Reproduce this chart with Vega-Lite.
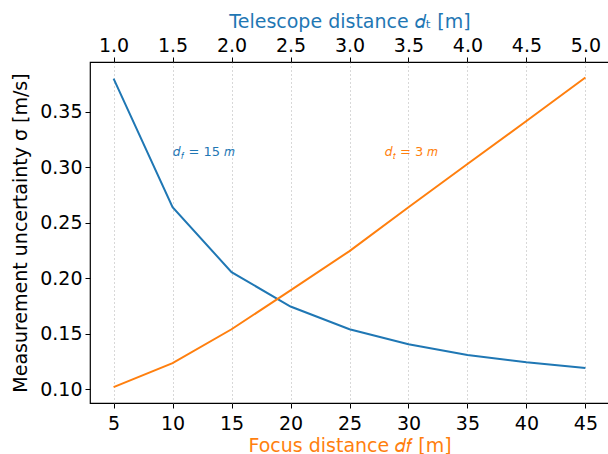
{
  "$schema": "https://vega.github.io/schema/vega-lite/v6.json",
  "autosize": {"type": "none"},
  "padding": {"left": 90, "top": 62, "right": 0, "bottom": 51},
  "width": 519,
  "height": 341,
  "config": {
    "font": "DejaVu Sans",
    "view": {"stroke": "black", "strokeWidth": 1.2},
    "axis": {
      "labelFont": "DejaVu Sans",
      "titleFont": "DejaVu Sans",
      "labelFontSize": 19,
      "titleFontSize": 19,
      "titleFontWeight": "normal",
      "labelColor": "black",
      "tickColor": "black",
      "tickSize": 5,
      "tickWidth": 1,
      "domain": false,
      "labelPadding": 3
    }
  },
  "datasets": {
    "telescope": [
      {"dt": 1.0, "sigma": 0.380},
      {"dt": 1.5, "sigma": 0.264},
      {"dt": 2.0, "sigma": 0.2055},
      {"dt": 2.5, "sigma": 0.1745},
      {"dt": 3.0, "sigma": 0.154},
      {"dt": 3.5, "sigma": 0.1405},
      {"dt": 4.0, "sigma": 0.1308},
      {"dt": 4.5, "sigma": 0.1243},
      {"dt": 5.0, "sigma": 0.119}
    ],
    "focus": [
      {"df": 5, "sigma": 0.1018},
      {"df": 10, "sigma": 0.1235},
      {"df": 15, "sigma": 0.154},
      {"df": 20, "sigma": 0.189},
      {"df": 25, "sigma": 0.2245},
      {"df": 30, "sigma": 0.264},
      {"df": 35, "sigma": 0.303},
      {"df": 40, "sigma": 0.3418},
      {"df": 45, "sigma": 0.381}
    ],
    "labelT": [{"dt": 1.5, "sigma": 0.31}],
    "labelF": [{"df": 28, "sigma": 0.31}]
  },
  "layer": [
    {
      "data": {"name": "telescope"},
      "mark": {"type": "line", "color": "#1f77b4", "strokeWidth": 2},
      "encoding": {
        "x": {
          "field": "dt", "type": "quantitative",
          "scale": {"domain": [0.8, 5.2], "nice": false, "zero": false},
          "axis": {
            "orient": "top",
            "title": "Telescope distance 𝑑ₜ [m]",
            "titleColor": "#1f77b4",
            "values": [1.0, 1.5, 2.0, 2.5, 3.0, 3.5, 4.0, 4.5, 5.0],
            "format": ".1f",
            "grid": true,
            "gridColor": "#b0b0b0",
            "gridDash": [1, 3],
            "gridWidth": 1,
            "labelPadding": 2,
            "titlePadding": 5
          }
        },
        "y": {
          "field": "sigma", "type": "quantitative",
          "scale": {"domain": [0.0875, 0.395], "nice": false, "zero": false},
          "axis": {
            "title": "Measurement uncertainty σ [m/s]",
            "values": [0.10, 0.15, 0.20, 0.25, 0.30, 0.35],
            "format": ".2f",
            "grid": false,
            "titlePadding": 9
          }
        }
      }
    },
    {
      "data": {"name": "labelT"},
      "encoding": {
        "x": {"field": "dt", "type": "quantitative", "scale": {"domain": [0.8, 5.2], "nice": false, "zero": false}, "axis": null},
        "y": {"field": "sigma", "type": "quantitative"}
      },
      "layer": [
        {"mark": {"type": "text", "text": "𝑑", "color": "#1f77b4", "fontSize": 13, "align": "left", "baseline": "alphabetic"}},
        {"mark": {"type": "text", "text": "𝑓", "color": "#1f77b4", "fontSize": 9, "align": "left", "baseline": "alphabetic", "dx": 8.5, "dy": 3}},
        {"mark": {"type": "text", "text": "= 15 𝑚", "color": "#1f77b4", "fontSize": 13, "align": "left", "baseline": "alphabetic", "dx": 16}}
      ]
    },
    {
      "data": {"name": "focus"},
      "mark": {"type": "line", "color": "#ff7f0e", "strokeWidth": 2},
      "encoding": {
        "x": {
          "field": "df", "type": "quantitative",
          "scale": {"domain": [3, 47], "nice": false, "zero": false},
          "axis": {
            "orient": "bottom",
            "title": "Focus distance 𝑑𝑓 [m]",
            "titleColor": "#ff7f0e",
            "values": [5, 10, 15, 20, 25, 30, 35, 40, 45],
            "grid": false,
            "labelPadding": 6,
            "titlePadding": 3
          }
        },
        "y": {"field": "sigma", "type": "quantitative"}
      }
    },
    {
      "data": {"name": "labelF"},
      "encoding": {
        "x": {"field": "df", "type": "quantitative", "scale": {"domain": [3, 47], "nice": false, "zero": false}, "axis": null},
        "y": {"field": "sigma", "type": "quantitative"}
      },
      "layer": [
        {"mark": {"type": "text", "text": "𝑑", "color": "#ff7f0e", "fontSize": 13, "align": "left", "baseline": "alphabetic"}},
        {"mark": {"type": "text", "text": "𝑡", "color": "#ff7f0e", "fontSize": 9, "align": "left", "baseline": "alphabetic", "dx": 8.5, "dy": 3}},
        {"mark": {"type": "text", "text": "= 3 𝑚", "color": "#ff7f0e", "fontSize": 13, "align": "left", "baseline": "alphabetic", "dx": 15}}
      ]
    }
  ],
  "resolve": {"scale": {"x": "independent"}, "axis": {"x": "independent"}}
}
